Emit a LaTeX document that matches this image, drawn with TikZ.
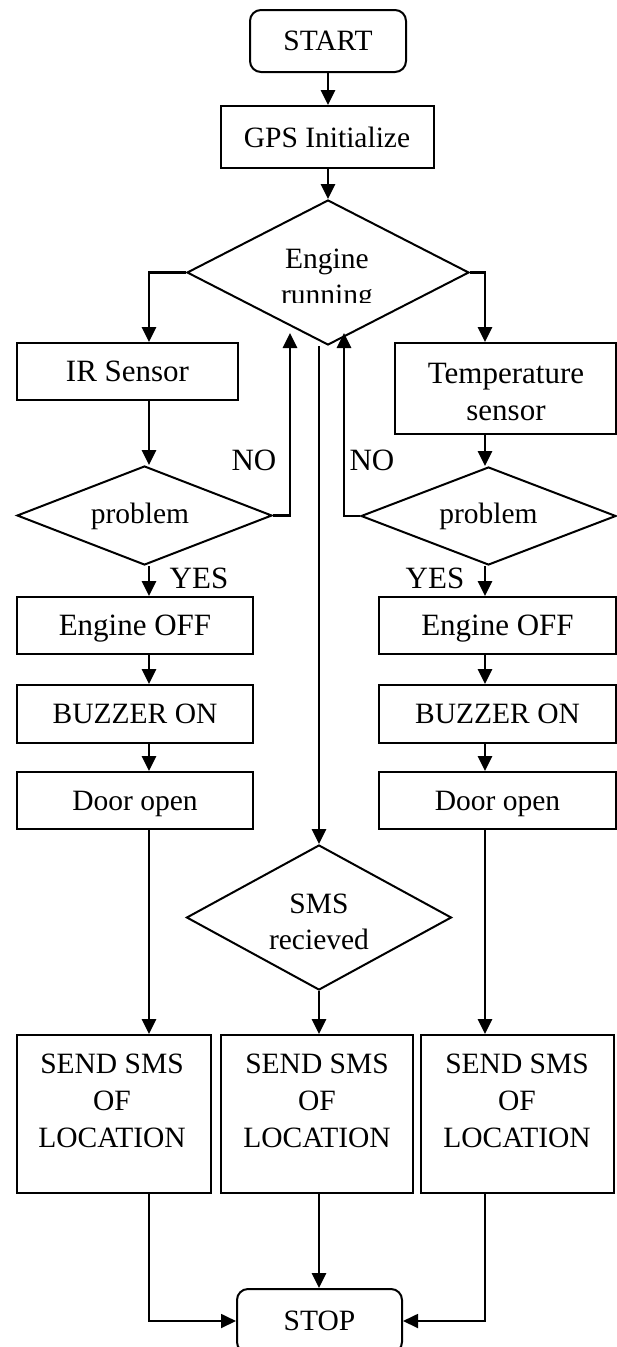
\documentclass[tikz,border=0pt]{standalone}
\usepackage{fontspec}
\setmainfont{Liberation Serif}
\usetikzlibrary{shapes.geometric,arrows.meta}
\begin{document}
\begin{tikzpicture}[x=1pt,y=-1pt,
  box/.style={draw,line width=2pt,inner sep=0pt,text depth=0pt,font=\fontsize{29.5}{36}\selectfont},
  bigf/.style={font=\fontsize{31}{38}\selectfont},
  term/.style={box,rounded corners=11pt},
  dia/.style={draw,diamond,line width=2pt,inner sep=0pt},
  txt/.style={inner sep=0pt,anchor=base,font=\fontsize{29.5}{36}\selectfont},
  arr/.style={line width=2.8pt,-{Triangle[length=15pt,width=14pt]}},
  thinarr/.style={line width=1.8pt,-{Triangle[length=15pt,width=14pt]}}]
\fill[white] (0,0) rectangle (617,1347);
\useasboundingbox (0,0) rectangle (617,1347);
\coordinate (cL) at (149,0);
\coordinate (cM) at (319,0);
\coordinate (cR) at (485,0);
\coordinate (noL) at (290,333);
\coordinate (noR) at (344,333);
% top
\node[term,minimum width=156pt,minimum height=62pt] (start) at (328,41) {START};
\node[box,minimum width=213pt,minimum height=62pt] (gps) at (327,137) {GPS Initialize};
\node[dia,minimum width=282pt,minimum height=145pt] (eng) at (328,272.5) {};
\begin{scope}
\clip (180,200) rectangle (480,302.5);
\node[txt] (engt1) at (327,268) {Engine};
\node[txt] (engt2) at (327,304) {running};
\end{scope}
% left column
\node[box,bigf,minimum width=221pt,minimum height=57pt] (ir) at (127.5,371.5) {IR Sensor};
\node[dia,minimum width=255pt,minimum height=99pt] (probL) at (144.5,515.5) {};
\node[txt] (probLt) at (140,523) {problem};
\node[box,bigf,minimum width=236pt,minimum height=57pt] (offL) at (135,625.5) {Engine OFF};
\node[box,minimum width=236pt,minimum height=58pt] (buzL) at (135,714) {BUZZER ON};
\node[box,minimum width=236pt,minimum height=57pt] (doorL) at (135,800.5) {Door open};
% right column
\node[box,minimum width=221pt,minimum height=91pt] (temp) at (505.5,388.5) {};
\node[txt,bigf] (tempt1) at (506,383) {Temperature};
\node[txt,bigf] (tempt2) at (506,420) {sensor};
\node[dia,minimum width=255pt,minimum height=98pt] (probR) at (488.5,516) {};
\node[txt] (probRt) at (488.5,523) {problem};
\node[box,bigf,minimum width=237pt,minimum height=57pt] (offR) at (497.5,625.5) {Engine OFF};
\node[box,minimum width=237pt,minimum height=58pt] (buzR) at (497.5,714) {BUZZER ON};
\node[box,minimum width=237pt,minimum height=57pt] (doorR) at (497.5,800.5) {Door open};
% labels
\node[txt,bigf] (noLt) at (254,470) {NO};
\node[txt,bigf] (noRt) at (372,470) {NO};
\node[txt,bigf] (yesL) at (199,588) {YES};
\node[txt,bigf] (yesR) at (435,588) {YES};
% middle
\node[dia,minimum width=265pt,minimum height=145pt] (sms) at (319,917.5) {};
\node[txt] (smst1) at (319,913) {SMS};
\node[txt] (smst2) at (319,949) {recieved};
% send boxes
\node[box,minimum width=194pt,minimum height=158pt] (sendL) at (114,1114) {};
\node[box,minimum width=192pt,minimum height=158pt] (sendM) at (317,1114) {};
\node[box,minimum width=193pt,minimum height=158pt] (sendR) at (517.5,1114) {};
\foreach \n/\x in {L/112,M/317,R/517}{
  \node[txt] (send\n a) at (\x,1073) {SEND SMS};
  \node[txt] (send\n b) at (\x,1110) {OF};
  \node[txt] (send\n c) at (\x,1147) {LOCATION};
}
\node[term,minimum width=165pt,minimum height=64pt] (stop) at (319.5,1321) {STOP};
% connectors
\draw[arr] (start.south) -- (start.south |- gps.north);
\draw[arr] (gps.south -| eng.north) -- (eng.north);
\draw[arr] (eng.west) -| (ir.north -| cL);
\draw[arr] (eng.east) -| (temp.north -| cR);
\draw[arr] (ir.south -| cL) -- (probL.north -| cL);
\draw[arr] (temp.south -| cR) -- (probR.north -| cR);
\draw[arr] (probL.east) -| (noL);
\draw[arr] (probR.west) -| (noR);
\draw[arr] (probL.south -| cL) -- (offL.north -| cL);
\draw[arr] (probR.south -| cR) -- (offR.north -| cR);
\draw[arr] (offL.south -| cL) -- (buzL.north -| cL);
\draw[arr] (offR.south -| cR) -- (buzR.north -| cR);
\draw[arr] (buzL.south -| cL) -- (doorL.north -| cL);
\draw[arr] (buzR.south -| cR) -- (doorR.north -| cR);
\draw[arr] (doorL.south -| cL) -- (sendL.north -| cL);
\draw[arr] (doorR.south -| cR) -- (sendR.north -| cR);
\draw[arr] (eng.south -| cM) -- (sms.north);
\draw[arr] (sms.south) -- (sendM.north -| sms.south);
\draw[thinarr] (sendL.south -| cL) |- (stop.west);
\draw[thinarr] (sendR.south -| cR) |- (stop.east);
\draw[arr] (sendM.south -| cM) -- (stop.north -| cM);
\end{tikzpicture}
\end{document}
